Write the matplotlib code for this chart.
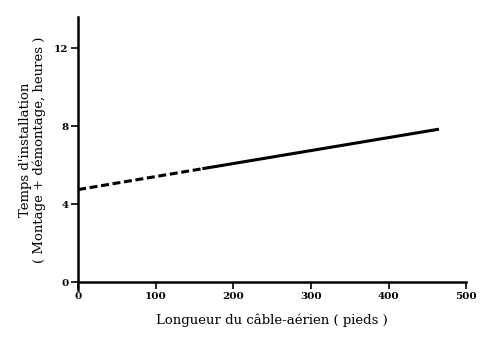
import matplotlib
matplotlib.use("Agg")
import matplotlib.pyplot as plt

# Data
dashed_x = [0, 160]
dashed_y = [4.75, 5.82]
solid_x = [160, 465]
solid_y = [5.82, 7.85]
xticks = [0, 100, 200, 300, 400, 500]
yticks = [0, 4, 8, 12]

plt.rcParams['font.family'] = ['DejaVu Serif']

fig = plt.figure(figsize=(4.98, 3.5), dpi=100)
ax = fig.add_axes([0.157, 0.194, 0.779, 0.757])
ax.plot(dashed_x, dashed_y, color='black', lw=2.2, linestyle=(0, (2.6, 1.2)), solid_capstyle='butt')
ax.plot(solid_x, solid_y, color='black', lw=2.2, solid_capstyle='butt')

ax.set_xlim(0, 500)
ax.set_ylim(0, 13.6)
ax.set_xticks(xticks)
ax.set_yticks(yticks)
ax.set_xticklabels([str(v) for v in xticks], fontsize=7.5, fontweight='bold')
ax.set_yticklabels([str(v) for v in yticks], fontsize=7.5, fontweight='bold')
ax.tick_params(direction='out', length=5, width=1.2, pad=2)
for s in ['top', 'right']:
    ax.spines[s].set_visible(False)
for s in ['left', 'bottom']:
    ax.spines[s].set_linewidth(1.8)
ax.spines['left'].set_bounds(-0.4, 13.6)

ax.set_xlabel("Longueur du câble-aérien ( pieds )", fontsize=9.5, labelpad=9)
ax.set_ylabel("Temps d'installation\n( Montage + démontage, heures )", fontsize=9.5,
              labelpad=6, linespacing=1.0)

fig.savefig("out.png", dpi=100)
